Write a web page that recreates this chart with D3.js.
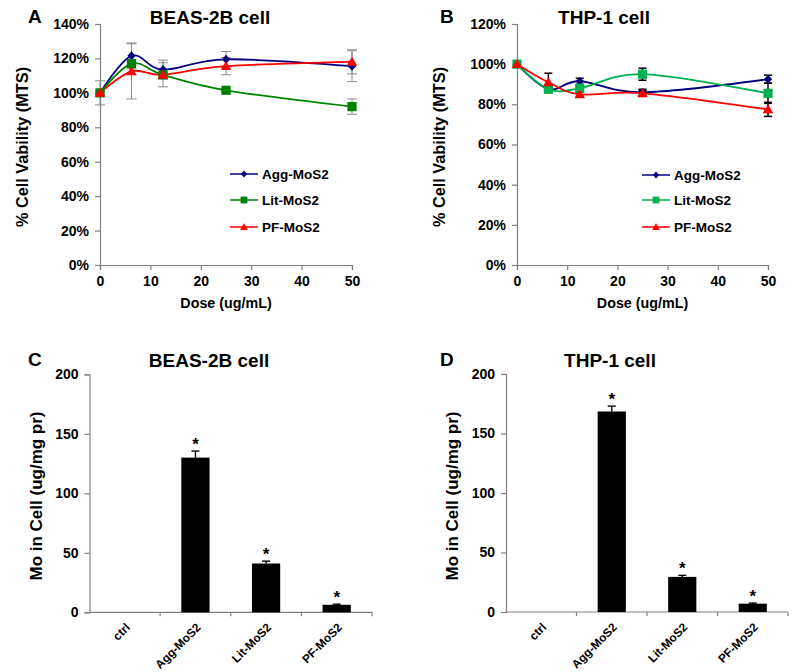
<!DOCTYPE html>
<html><head><meta charset="utf-8">
<script src="https://cdn.jsdelivr.net/npm/d3@7"></script>
<style>
html,body{margin:0;padding:0;background:#fff;}
svg text{font-family:"Liberation Sans",Arial,sans-serif;font-weight:bold;fill:#000;}
</style></head>
<body><svg id="c" width="800" height="672"></svg>
<script>
// ---------- data ----------
const doses = [0, 6.25, 12.5, 25, 50];
const seriesNames = ["Agg-MoS2", "Lit-MoS2", "PF-MoS2"];
const doseTicks = [0, 10, 20, 30, 40, 50];

// Panel A: BEAS-2B viability (%)
const beasAgg = [100, 121.5, 113.5, 119.5, 115.5];
const beasAggErr = [7, 7.5, 5.5, 4.5, 9];
const beasLit = [100, 117, 110.5, 101.5, 92];
const beasLitErr = [1, 1, 1, 1, 4.5];
const beasPF = [100, 112.5, 110.5, 115.5, 118];
const beasPFErr = [1, 16, 7, 5, 7];
const beasTicks = [0, 20, 40, 60, 80, 100, 120, 140];

// Panel B: THP-1 viability (%)
const thpAgg = [100, 87.5, 91.5, 86, 92.5];
const thpAggErr = [1, 1.5, 1.5, 1.5, 2];
const thpLit = [100, 87.5, 88, 95, 85.5];
const thpLitErr = [1, 1.5, 1.5, 3, 5];
const thpPF = [100, 91, 85, 85.5, 77.5];
const thpPFErr = [1, 4.5, 1, 1.5, 3.5];
const thpTicks = [0, 20, 40, 60, 80, 100, 120];

// Panels C, D: Mo uptake (ug/mg pr)
const barCategories = ["ctrl", "Agg-MoS2", "Lit-MoS2", "PF-MoS2"];
const beasMo = [0, 130, 41, 6.3];
const beasMoErr = [0, 5.5, 2, 0.5];
const beasMoSig = [false, true, true, true];
const thpMo = [0, 168.5, 29.5, 7];
const thpMoErr = [0, 4.5, 1.3, 0.5];
const thpMoSig = [false, true, true, true];
const moTicks = [0, 50, 100, 150, 200];

// ---------- drawing ----------
const svg = d3.select("#c");
const axisGray = "#808080";

function markerPath(type, s) {
  if (type === "diamond") return `M0,${-s}L${s*0.9},0L0,${s}L${-s*0.9},0Z`;
  if (type === "square") return `M${-s},${-s}H${s}V${s}H${-s}Z`;
  return `M0,${-s*1.1}L${s*1.15},${s*0.85}L${-s*1.15},${s*0.85}Z`;
}

function styleAxis(g) {
  g.select(".domain").attr("stroke", axisGray).attr("stroke-width", 1.2);
  g.selectAll(".tick line").attr("stroke", axisGray).attr("stroke-width", 1.2);
  g.selectAll(".tick text").attr("fill", "#000");
}

function linePanel(cfg) {
  const x = d3.scaleLinear().domain([0, 50]).range([cfg.x0, cfg.x1]);
  const y = d3.scaleLinear().domain([0, cfg.yMax]).range([cfg.yBot, cfg.yTop]);
  const g = svg.append("g");

  const ya = g.append("g").attr("transform", `translate(${cfg.x0},0)`)
    .call(d3.axisLeft(y).tickValues(cfg.yTicks).tickFormat(d => d + "%").tickSizeOuter(0).tickSize(5).tickPadding(6));
  ya.selectAll(".tick text").style("font-size", "14px").style("font-family", "Liberation Sans").style("font-weight", "bold");
  styleAxis(ya);
  const xa = g.append("g").attr("transform", `translate(0,${cfg.yBot})`)
    .call(d3.axisBottom(x).tickValues(doseTicks).tickSizeOuter(0).tickSize(5).tickPadding(6));
  xa.selectAll(".tick text").style("font-size", "14px").style("font-family", "Liberation Sans").style("font-weight", "bold");
  styleAxis(xa);

  const line = d3.line().x((d, i) => x(doses[i])).y(d => y(d)).curve(d3.curveCardinal.tension(0));
  const types = ["diamond", "square", "triangle"];

  cfg.series.forEach((s, k) => {
    s.values.forEach((v, i) => {
      const e = s.err[i];
      const cx = x(doses[i]);
      g.append("line").attr("x1", cx).attr("x2", cx).attr("y1", y(v - e)).attr("y2", y(v + e))
        .attr("stroke", cfg.errColor).attr("stroke-width", cfg.errW);
      [v - e, v + e].forEach(w => g.append("line").attr("x1", cx - cfg.cap).attr("x2", cx + cfg.cap)
        .attr("y1", y(w)).attr("y2", y(w)).attr("stroke", cfg.errColor).attr("stroke-width", cfg.errW));
    });
  });
  cfg.series.forEach((s, k) => {
    g.append("path").datum(s.values).attr("d", line).attr("fill", "none")
      .attr("stroke", s.color).attr("stroke-width", 1.8);
  });
  cfg.series.forEach((s, k) => {
    s.values.forEach((v, i) => {
      g.append("path").attr("d", markerPath(types[k], 4.6))
        .attr("transform", `translate(${x(doses[i])},${y(v)})`).attr("fill", s.color);
    });
  });

  cfg.series.forEach((s, k) => {
    const ly = cfg.legY[k];
    g.append("line").attr("x1", cfg.legX).attr("x2", cfg.legX + 28).attr("y1", ly).attr("y2", ly)
      .attr("stroke", s.color).attr("stroke-width", 1.5);
    g.append("path").attr("d", markerPath(types[k], 3.4))
      .attr("transform", `translate(${cfg.legX + 14},${ly})`).attr("fill", s.color);
    g.append("text").attr("x", cfg.legX + 32).attr("y", ly).attr("dy", "0.36em")
      .style("font-size", "13.5px").text(seriesNames[k]);
  });

  g.append("text").attr("x", cfg.titleX).attr("y", 24).attr("text-anchor", "middle")
    .style("font-size", "19px").text(cfg.title);
  g.append("text").attr("x", cfg.letterX).attr("y", 23).style("font-size", "19px").text(cfg.letter);
  g.append("text").attr("x", (cfg.x0 + cfg.x1) / 2).attr("y", 308).attr("text-anchor", "middle")
    .style("font-size", "14.3px").text("Dose (ug/mL)");
  g.append("text").attr("transform", `translate(${cfg.yTitleX},147) rotate(-90)`).attr("text-anchor", "middle")
    .style("font-size", "16.3px").text("% Cell Vability (MTS)");
}

function barPanel(cfg) {
  const x = d3.scaleBand().domain(barCategories).range([cfg.x0, cfg.x1]);
  const y = d3.scaleLinear().domain([0, 200]).range([cfg.yBot, cfg.yTop]);
  const g = svg.append("g");
  const bw = x.bandwidth() * 0.4;

  const ya = g.append("g").attr("transform", `translate(${cfg.x0},0)`)
    .call(d3.axisLeft(y).tickValues(moTicks).tickSizeOuter(0).tickSize(5).tickPadding(6));
  ya.selectAll(".tick text").style("font-size", "14px").style("font-family", "Liberation Sans").style("font-weight", "bold");
  styleAxis(ya);

  const xa = g.append("g").attr("transform", `translate(0,${cfg.yBot})`);
  xa.append("line").attr("x1", cfg.x0).attr("x2", cfg.x1).attr("stroke", axisGray).attr("stroke-width", 1.2);
  barCategories.forEach((c, i) => {
    const bx = x(c) + x.bandwidth();
    xa.append("line").attr("x1", bx).attr("x2", bx).attr("y1", 0).attr("y2", 4).attr("stroke", axisGray).attr("stroke-width", 1.2);
    const cx = x(c) + x.bandwidth() / 2;
    xa.append("text").attr("transform", `translate(${cx + 3},13) rotate(-45)`).attr("text-anchor", "end")
      .attr("dy", "0.35em").style("font-size", "11.8px").text(c);
  });

  cfg.values.forEach((v, i) => {
    const c = barCategories[i];
    const cx = x(c) + x.bandwidth() / 2;
    if (v > 0) {
      g.append("rect").attr("x", cx - bw / 2).attr("width", bw).attr("y", y(v)).attr("height", y(0) - y(v)).attr("fill", "#000");
      const top = y(v + cfg.err[i]);
      g.append("line").attr("x1", cx).attr("x2", cx).attr("y1", y(v)).attr("y2", top).attr("stroke", "#000").attr("stroke-width", 1.4);
      g.append("line").attr("x1", cx - 4).attr("x2", cx + 4).attr("y1", top).attr("y2", top).attr("stroke", "#000").attr("stroke-width", 1.4);
      if (cfg.sig[i]) {
        g.append("text").attr("x", cx).attr("y", top - 1).attr("text-anchor", "middle")
          .style("font-size", "17px").text("*");
      }
    }
  });

  g.append("text").attr("x", cfg.titleX).attr("y", 367).attr("text-anchor", "middle")
    .style("font-size", "19px").text(cfg.title);
  g.append("text").attr("x", cfg.letterX).attr("y", 366).style("font-size", "19px").text(cfg.letter);
  g.append("text").attr("transform", `translate(${cfg.yTitleX},496) rotate(-90)`).attr("text-anchor", "middle")
    .style("font-size", "17px").text("Mo in Cell (ug/mg pr)");
}

linePanel({
  x0: 100, x1: 352, yTop: 24, yBot: 265, yMax: 140, yTicks: beasTicks,
  series: [
    {values: beasAgg, err: beasAggErr, color: "#000080"},
    {values: beasLit, err: beasLitErr, color: "#008000"},
    {values: beasPF, err: beasPFErr, color: "#FF0000"}
  ],
  errColor: "#8c8c8c", errW: 1, cap: 5,
  legX: 230, legY: [174, 200, 227],
  title: "BEAS-2B cell", titleX: 210, letter: "A", letterX: 28, yTitleX: 28
});

linePanel({
  x0: 517, x1: 768, yTop: 24, yBot: 265, yMax: 120, yTicks: thpTicks,
  series: [
    {values: thpAgg, err: thpAggErr, color: "#000080"},
    {values: thpLit, err: thpLitErr, color: "#00B050"},
    {values: thpPF, err: thpPFErr, color: "#FF0000"}
  ],
  errColor: "#000", errW: 1.5, cap: 4,
  legX: 642, legY: [175, 200, 227],
  title: "THP-1 cell", titleX: 604, letter: "B", letterX: 440, yTitleX: 445
});

barPanel({
  x0: 89.5, x1: 372, yTop: 374.3, yBot: 612.3,
  values: beasMo, err: beasMoErr, sig: beasMoSig,
  title: "BEAS-2B cell", titleX: 209, letter: "C", letterX: 28, yTitleX: 42
});

barPanel({
  x0: 506, x1: 788, yTop: 374, yBot: 612,
  values: thpMo, err: thpMoErr, sig: thpMoSig,
  title: "THP-1 cell", titleX: 610, letter: "D", letterX: 440, yTitleX: 458
});
</script></body></html>
